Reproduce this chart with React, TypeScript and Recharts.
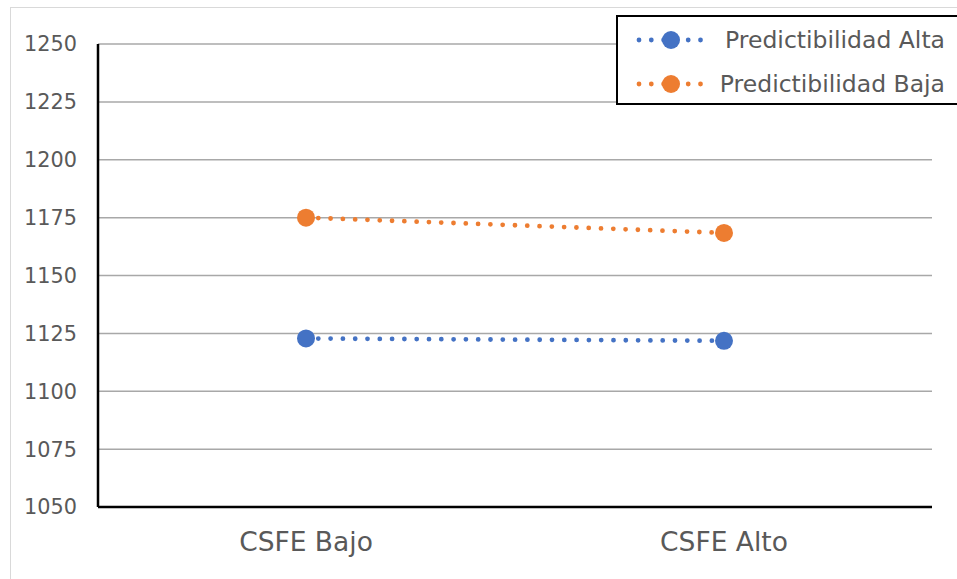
import React from 'react';
import { LineChart, Line, XAxis, YAxis, CartesianGrid } from 'recharts';

const categories = ['CSFE Bajo', 'CSFE Alto'];
const altaValues = [1122.8, 1121.8];
const bajaValues = [1175, 1168.4];
const yTicks = [1050, 1075, 1100, 1125, 1150, 1175, 1200, 1225, 1250];

const series = [
  { key: 'alta', name: 'Predictibilidad Alta', color: '#4472C4', values: altaValues },
  { key: 'baja', name: 'Predictibilidad Baja', color: '#ED7D31', values: bajaValues },
];

const chartData = categories.map((c, i) => ({
  name: c,
  alta: altaValues[i],
  baja: bajaValues[i],
}));

const FONT = '"DejaVu Sans", Verdana, sans-serif';
const TEXT = '#595959';

function LegendBox() {
  return (
    <div
      style={{
        position: 'absolute',
        left: 616,
        top: 15,
        width: 360,
        height: 90,
        border: '2px solid #000',
        background: '#fff',
        boxSizing: 'border-box',
        fontFamily: FONT,
        color: TEXT,
        fontSize: 23.5,
      }}
    >
      {series.map((s, i) => (
        <div
          key={s.key}
          style={{
            position: 'absolute',
            left: 0,
            top: 9 + i * 44,
            width: 327,
            height: 28,
            display: 'flex',
            alignItems: 'center',
            justifyContent: 'flex-end',
          }}
        >
          <svg width={74} height={24} style={{ position: 'absolute', left: 16, top: 2 }}>
            <line
              x1={5}
              y1={12}
              x2={69}
              y2={12}
              stroke={s.color}
              strokeWidth={4.8}
              strokeDasharray="0 12.3"
              strokeLinecap="round"
            />
            <circle cx={37} cy={12} r={9} fill={s.color} />
          </svg>
          <span style={{ whiteSpace: 'nowrap' }}>{s.name}</span>
        </div>
      ))}
    </div>
  );
}

export default function App() {
  return (
    <div style={{ position: 'fixed', left: 0, top: 0, width: 957, height: 579, overflow: 'hidden', background: '#fff' }}>
      <div
        style={{
          position: 'absolute',
          left: 10,
          top: 7,
          width: 1000,
          height: 620,
          border: '1px solid #d9d9d9',
        }}
      />
      <div style={{ position: 'absolute', left: 0, top: 0 }}>
        <LineChart width={957} height={579} data={chartData} margin={{ top: 44, right: 25, bottom: 0, left: 0 }}>
          <CartesianGrid vertical={false} stroke="#a8a8a8" strokeWidth={1.5} />
          <XAxis
            dataKey="name"
            height={72}
            padding={{ left: 208, right: 208 }}
            axisLine={{ stroke: '#000', strokeWidth: 2.5 }}
            tickLine={false}
            tickSize={0}
            tickMargin={25}
            tick={{ fontSize: 26.5, fill: TEXT, fontFamily: FONT }}
          />
          <YAxis
            width={98}
            domain={[1050, 1250]}
            ticks={yTicks}
            interval={0}
            axisLine={{ stroke: '#000', strokeWidth: 2.5 }}
            tickLine={false}
            tickSize={0}
            tickMargin={21}
            tick={{ fontSize: 20.8, fill: TEXT, fontFamily: FONT }}
          />
          {series.map((s) => (
            <Line
              key={s.key}
              dataKey={s.key}
              name={s.name}
              stroke={s.color}
              strokeWidth={4.8}
              strokeDasharray="0 12.3"
              strokeLinecap="round"
              dot={{ r: 9, fill: s.color, stroke: 'none' }}
              activeDot={false}
              isAnimationActive={false}
            />
          ))}
        </LineChart>
      </div>
      <LegendBox />
    </div>
  );
}
